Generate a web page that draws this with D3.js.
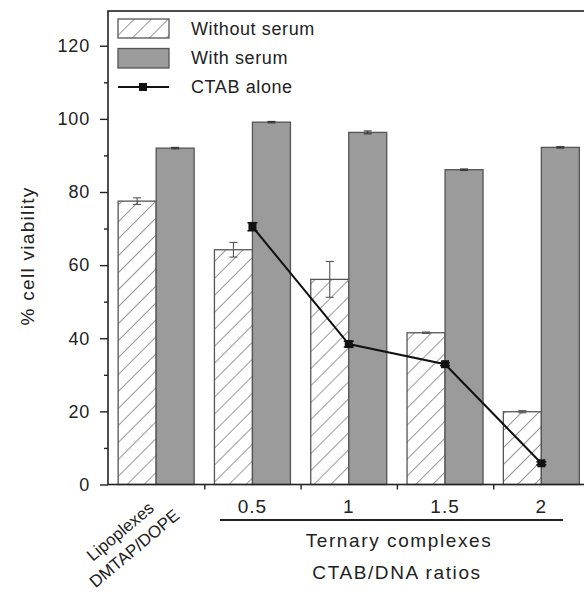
<!DOCTYPE html>
<html><head><meta charset="utf-8">
<script src="https://cdn.jsdelivr.net/npm/d3@7"></script>
<style>
html,body{margin:0;padding:0;background:#fff;}
svg text{font-family:"Liberation Sans",Arial,sans-serif;fill:#222;}
</style></head>
<body>
<svg id="chart" width="584" height="592"></svg>
<script>
const categories = ["Lipoplexes", "0.5", "1", "1.5", "2"];
const withoutSerum = [77.5, 64.2, 56.1, 41.5, 19.9];
const withoutSerumErr = [0.9, 2.0, 4.9, 0.2, 0.3];
const withSerum = [92.0, 99.1, 96.3, 86.1, 92.2];
const withSerumErr = [0.2, 0.2, 0.4, 0.2, 0.2];
const ctabCats = ["0.5", "1", "1.5", "2"];
const ctabAlone = [70.5, 38.4, 32.9, 5.8];
const ctabErr = [1.1, 0.8, 0.4, 0.4];
const yTicks = [0, 20, 40, 60, 80, 100, 120];
const yMinorTicks = [10, 30, 50, 70, 90, 110];
const seriesNames = ["Without serum", "With serum"];

(function () {
const svg = d3.select("#chart");
const pLeft = 108, pRight = 589.5, pTop = 11, pBottom = 484.5;

const x = d3.scaleBand().domain(categories).range([pLeft, pRight]).padding(0);
const xs = d3.scaleBand().domain(seriesNames).range([0, x.bandwidth()]).paddingInner(0).paddingOuter(0.267);
const y = d3.scaleLinear().domain([0, 129.5]).range([pBottom, pTop]);

// hatch pattern
const defs = svg.append("defs");
const pat = defs.append("pattern").attr("id", "hatch").attr("patternUnits", "userSpaceOnUse")
  .attr("width", 12).attr("height", 12).attr("patternTransform", "rotate(45)");
pat.append("rect").attr("width", 12).attr("height", 12).attr("fill", "#fff");
pat.append("line").attr("x1", 0).attr("y1", 0).attr("x2", 0).attr("y2", 12)
  .attr("stroke", "#444").attr("stroke-width", 1.1);

const barFill = ["url(#hatch)", "#9b9b9b"];
const seriesVals = [withoutSerum, withSerum];
const seriesErr = [withoutSerumErr, withSerumErr];

seriesNames.forEach((s, si) => {
  svg.append("g").selectAll("rect").data(categories).join("rect")
    .attr("x", d => x(d) + xs(s))
    .attr("y", (d, i) => y(seriesVals[si][i]))
    .attr("width", xs.bandwidth())
    .attr("height", (d, i) => y(0) - y(seriesVals[si][i]))
    .attr("fill", barFill[si])
    .attr("stroke", "#555").attr("stroke-width", 1.3);
  const eg = svg.append("g").attr("stroke", si === 0 ? "#555" : "#333").attr("stroke-width", 1.1);
  categories.forEach((c, i) => {
    const bx = x(c) + xs(s) + xs.bandwidth() / 2;
    const v = seriesVals[si][i], e = seriesErr[si][i];
    eg.append("line").attr("x1", bx).attr("x2", bx).attr("y1", y(v + e)).attr("y2", y(v - e));
    eg.append("line").attr("x1", bx - 4).attr("x2", bx + 4).attr("y1", y(v + e)).attr("y2", y(v + e));
    eg.append("line").attr("x1", bx - 4).attr("x2", bx + 4).attr("y1", y(v - e)).attr("y2", y(v - e));
  });
});

// CTAB line
const cx = c => x(c) + x.bandwidth() / 2;
svg.append("path").datum(ctabAlone)
  .attr("d", d3.line().x((d, i) => cx(ctabCats[i])).y(d => y(d)))
  .attr("fill", "none").attr("stroke", "#111").attr("stroke-width", 2);
const cg = svg.append("g").attr("stroke", "#111").attr("stroke-width", 1.5);
ctabAlone.forEach((v, i) => {
  const px = cx(ctabCats[i]), e = ctabErr[i];
  cg.append("line").attr("x1", px).attr("x2", px).attr("y1", y(v + e)).attr("y2", y(v - e));
  cg.append("line").attr("x1", px - 5).attr("x2", px + 5).attr("y1", y(v + e)).attr("y2", y(v + e));
  cg.append("line").attr("x1", px - 5).attr("x2", px + 5).attr("y1", y(v - e)).attr("y2", y(v - e));
});
svg.append("g").selectAll("rect").data(ctabAlone).join("rect")
  .attr("x", (d, i) => cx(ctabCats[i]) - 4).attr("y", d => y(d) - 4)
  .attr("width", 8).attr("height", 8).attr("fill", "#111");

// frame
svg.append("rect").attr("x", pLeft).attr("y", pTop).attr("width", pRight - pLeft).attr("height", pBottom - pTop)
  .attr("fill", "none").attr("stroke", "#222").attr("stroke-width", 1.6);

// y axis
const yAxis = d3.axisLeft(y).tickValues(yTicks).tickSize(8).tickPadding(10).tickFormat(d3.format("d"));
const ya = svg.append("g").attr("transform", `translate(${pLeft},0)`).call(yAxis);
ya.select(".domain").remove();
ya.selectAll("line").attr("stroke", "#222").attr("stroke-width", 1.4);
ya.selectAll("text").attr("font-size", 18).attr("letter-spacing", 0.8).attr("fill", "#222")
  .attr("font-family", "Liberation Sans, Arial, sans-serif");
const yMinor = d3.axisLeft(y).tickValues(yMinorTicks).tickSize(4).tickFormat("");
const ym = svg.append("g").attr("transform", `translate(${pLeft},0)`).call(yMinor);
ym.select(".domain").remove();
ym.selectAll("line").attr("stroke", "#222").attr("stroke-width", 1.4);

// x axis ticks at group boundaries
const bounds = categories.slice(1).map(c => x(c));
const xb = d3.scaleLinear().domain([pLeft, pRight]).range([pLeft, pRight]);
const xAxis = d3.axisBottom(xb).tickValues(bounds).tickSize(5).tickFormat("");
const xa = svg.append("g").attr("transform", `translate(0,${pBottom})`).call(xAxis);
xa.select(".domain").remove();
xa.selectAll("line").attr("stroke", "#222").attr("stroke-width", 1.4);

// x labels
svg.append("g").selectAll("text").data(ctabCats).join("text")
  .attr("x", d => cx(d)).attr("y", 513).attr("text-anchor", "middle")
  .attr("font-size", 19).attr("letter-spacing", 1).text(d => d);

const lg = svg.append("g").attr("transform", "translate(124,536) rotate(-40)");
lg.append("text").attr("x", 0).attr("y", 0).attr("text-anchor", "middle").attr("font-size", 17).text("Lipoplexes");
lg.append("text").attr("x", 0).attr("y", 22).attr("text-anchor", "middle").attr("font-size", 17).text("DMTAP/DOPE");

svg.append("line").attr("x1", 220).attr("x2", 563).attr("y1", 520).attr("y2", 520)
  .attr("stroke", "#222").attr("stroke-width", 2);
svg.append("text").attr("x", 399).attr("y", 547).attr("text-anchor", "middle")
  .attr("font-size", 19).attr("letter-spacing", 1.6).text("Ternary complexes");
svg.append("text").attr("x", 397).attr("y", 579).attr("text-anchor", "middle")
  .attr("font-size", 19).attr("letter-spacing", 1.6).text("CTAB/DNA ratios");

// y label
svg.append("text").attr("transform", "translate(34,256) rotate(-90)").attr("text-anchor", "middle")
  .attr("font-size", 19).attr("letter-spacing", 1.3).text("% cell viability");

// legend
const leg = svg.append("g");
leg.append("rect").attr("x", 118).attr("y", 19).attr("width", 51).attr("height", 19)
  .attr("fill", "url(#hatch)").attr("stroke", "#555").attr("stroke-width", 1.3);
leg.append("rect").attr("x", 118).attr("y", 48.5).attr("width", 51).attr("height", 19.5)
  .attr("fill", "#9b9b9b").attr("stroke", "#555").attr("stroke-width", 1.3);
leg.append("line").attr("x1", 118).attr("x2", 169).attr("y1", 87).attr("y2", 87)
  .attr("stroke", "#111").attr("stroke-width", 1.8);
leg.append("rect").attr("x", 139).attr("y", 83).attr("width", 8).attr("height", 8).attr("fill", "#111");
const legTexts = ["Without serum", "With serum", "CTAB alone"];
const legY = [34.5, 64, 93];
leg.selectAll("text.l").data(legTexts).join("text").attr("class", "l")
  .attr("x", 191).attr("y", (d, i) => legY[i]).attr("font-size", 18).attr("letter-spacing", 0.6).text(d => d);
})();
</script>
</body></html>
